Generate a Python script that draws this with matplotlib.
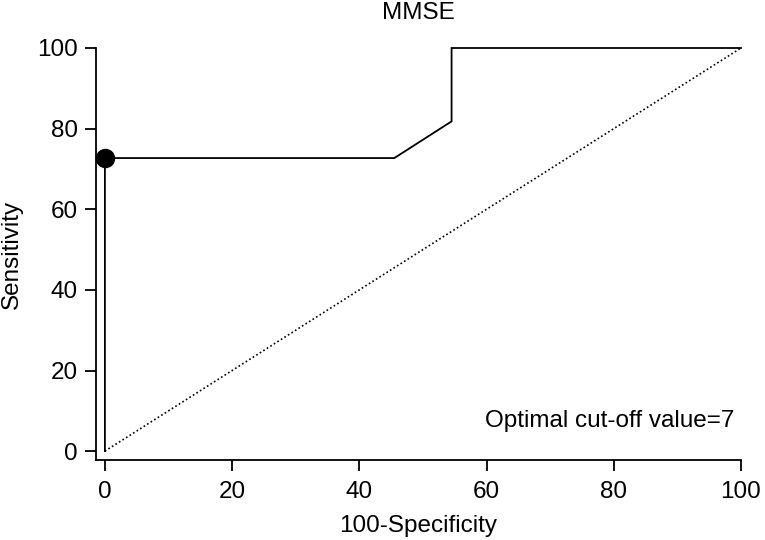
import matplotlib
matplotlib.use("Agg")
import matplotlib.pyplot as plt

# ROC data (100-Specificity, Sensitivity)
fpr = [0, 0, 45.5, 54.5, 54.5, 100]
tpr = [0, 72.7, 72.7, 81.8, 100, 100]
ref_x = [0, 100]
ref_y = [0, 100]
opt_point = (0, 72.7)
xticks = [0, 20, 40, 60, 80, 100]
yticks = [0, 20, 40, 60, 80, 100]

plt.rcParams['font.family'] = ['Liberation Sans', 'DejaVu Sans']

fig = plt.figure(figsize=(7.65, 5.4), dpi=100)
ax = fig.add_axes([96/765, 1-460/540, (741-96)/765, (460-48)/540])

ax.plot(fpr, tpr, color='black', lw=1.3, clip_on=False, solid_joinstyle='miter')
ax.plot(ref_x, ref_y, color='black', lw=1.2, ls=(0, (1, 1.5)), clip_on=False)
ax.plot([opt_point[0]], [opt_point[1]], 'o', color='black', ms=13, clip_on=False, zorder=5)

ax.set_xlim(-1.4, 100)
ax.set_ylim(-2.2, 100)
ax.set_xticks(xticks)
ax.set_yticks(yticks)
ax.spines['top'].set_visible(False)
ax.spines['right'].set_visible(False)
for s in ['left', 'bottom']:
    ax.spines[s].set_linewidth(1.3)
ax.tick_params(axis='both', length=8, width=1.3, labelsize=17.5)
ax.tick_params(axis='x', pad=7)
ax.tick_params(axis='y', pad=5)

ax.set_title('MMSE', fontsize=17.5, pad=21)
ax.set_xlabel('100-Specificity', fontsize=17.5, labelpad=9)
ax.set_ylabel('Sensitivity', fontsize=17.5, labelpad=10)
ax.text(99, 7.4, 'Optimal cut-off value=7', fontsize=17.5, ha='right', va='center')

fig.savefig('out.png', dpi=100)
